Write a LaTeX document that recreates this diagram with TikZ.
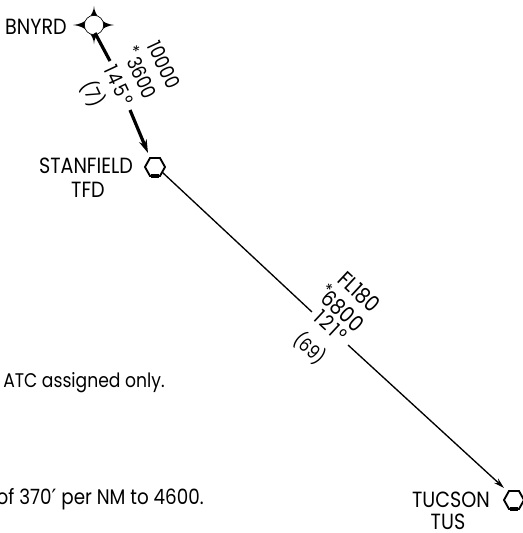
\documentclass[tikz,border=0pt]{standalone}
\usepackage{fontspec}
\setmainfont[FakeStretch=0.87]{Poppins}
\newfontfamily\primefont{DejaVu Sans}
\usetikzlibrary{arrows.meta}
\tikzset{
 lbl/.style={inner sep=0pt,font=\fontsize{14.8}{16}\selectfont,text=black},
 caplbl/.style={inner sep=0pt,font=\fontsize{16.5}{18}\selectfont,text=black},
 noteb/.style={inner sep=0pt,font=\fontsize{15.8}{18}\selectfont,text=black},
 rota/.style={inner sep=0pt,font=\fontsize{15}{16}\selectfont,text=black,rotate=-65},
 rotb/.style={inner sep=0pt,font=\fontsize{16.5}{18}\selectfont,text=black,rotate=-43},
 spaceda/.style={font=\fontsize{15}{16}\selectfont\addfontfeature{LetterSpace=12}},
 spacedb/.style={font=\fontsize{15.5}{16}\selectfont\addfontfeature{LetterSpace=10}},
 parenb/.style={font=\fontsize{14}{16}\selectfont},
 stara/.style={inner sep=0pt,font=\fontsize{13}{12}\selectfont,text=black,rotate=-65},
 starb/.style={inner sep=0pt,font=\fontsize{13}{12}\selectfont,text=black,rotate=-43},
 thick leg/.style={line width=2.4pt,-{Stealth[length=10pt,width=6pt]}},
 thin leg/.style={line width=1pt,-{Stealth[length=8pt,width=4.5pt]}},
 plain leg/.style={line width=2.4pt},
 plain thin/.style={line width=1pt},
 hexline/.style={line width=1.4pt,fill=white},
 hexbase/.style={line width=2.8pt}
}
\begin{document}
\begin{tikzpicture}[x=0.75pt,y=-0.75pt]
\useasboundingbox (0,0) rectangle (523,533);
\fill[white] (0,0) rectangle (523,533);
% BNYRD waypoint
\fill[black] (94,6) .. controls (94.5,15) and (102,24) .. (114,25)
 .. controls (102,26) and (94.5,35) .. (94,44)
 .. controls (93.5,35) and (86,26) .. (73,25)
 .. controls (86,24) and (93.5,15) .. cycle;
\node[circle,fill=white,draw=black,line width=0.5pt,minimum size=14.5pt,inner sep=0pt] (bc) at (94,25) {};
% hexagons
\draw[hexline] (150,158) -- (160,158) -- (165,167) -- (160,176) -- (150,176) -- (145,167) -- cycle;
\draw[hexbase] (151,176) -- (159,176);
\draw[hexline] (509,491) -- (519,491) -- (524,500) -- (519,509) -- (509,509) -- (504,500) -- cycle;
\draw[hexbase] (510,509) -- (518,509);
% connector ends
\coordinate (g1a) at (110,61);
\coordinate (g1b) at (130,110);
\coordinate (g2a) at (312,312);
\coordinate (g2b) at (348,345);
\coordinate (b1) at (95,33);
\coordinate (s1) at (148,153);
\coordinate (s2) at (162,172);
\coordinate (t1) at (504,488);
\draw[plain leg] (b1) -- (g1a);
\draw[thick leg] (g1b) -- (s1);
\draw[plain thin] (s2) -- (g2a);
\draw[thin leg] (g2b) -- (t1);
% labels
\node[caplbl] (n1) at (36,27) {BNYRD};
\node[caplbl] (n2) at (86,166) {STANFIELD};
\node[caplbl] (n3) at (88,190) {TFD};
\node[caplbl] (n4) at (451,500) {TUCSON};
\node[caplbl] (n5) at (448,522) {TUS};
\node[lbl,anchor=west] (n6) at (3,383) {ATC assigned only.};
\node[noteb,anchor=east] (n7) at (204,499) {of 370{\primefont ′} per NM to 4600.};
\node[rota] (a1) at (164,65) {10000};
\node[rota] (a2) at (142,78) {3600};
\node[stara] (a3) at (134,50) {*};
\node[rota,spaceda] (a4) at (119,85) {145°};
\node[rota] (a5) at (93,94) {(7)};
\node[rotb] (b1t) at (359,292) {FL180};
\node[starb] (b2t) at (328,289) {*};
\node[rotb] (b3t) at (343,311) {6800};
\node[rotb,spacedb] (b4t) at (331,326) {121°};
\node[rotb,parenb] (b5t) at (310,348) {(69)};
\end{tikzpicture}
\end{document}
